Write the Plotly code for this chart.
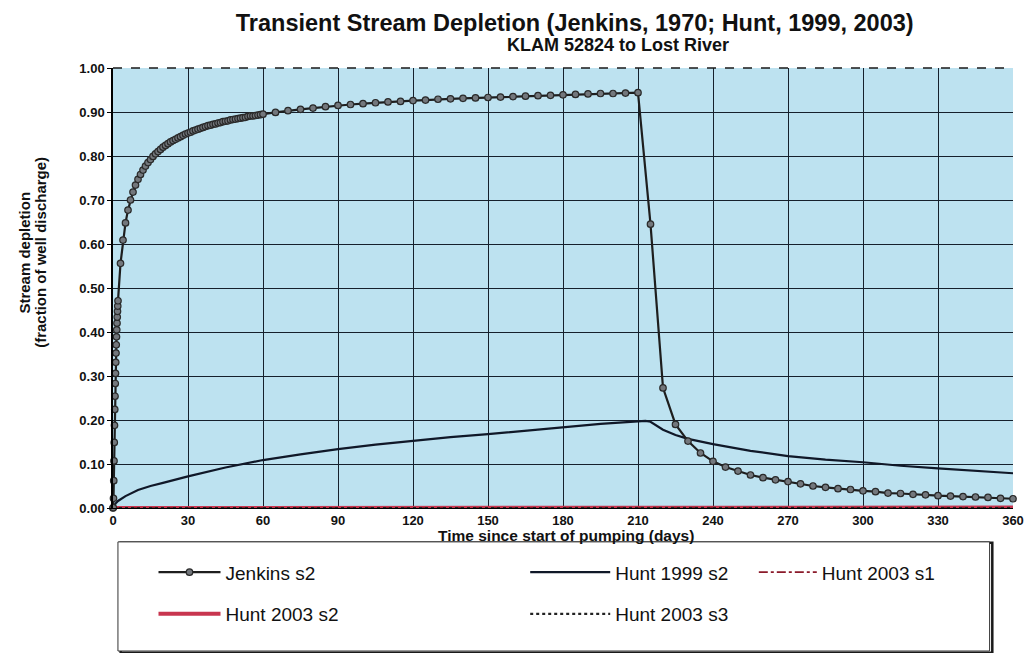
import plotly.graph_objects as go

# ---------------- data ----------------
jenkins_t = [0, 0.1, 0.2, 0.3, 0.4, 0.5, 0.6, 0.7, 0.8, 0.9, 1.0,
             1.1, 1.2, 1.3, 1.4, 1.5, 1.6, 1.7, 1.8, 1.9, 2.0,
             3, 4, 5, 6, 7, 8, 9, 10, 11, 12, 13, 14, 15, 16, 17, 18, 19, 20,
             21, 22, 23, 24, 25, 26, 27, 28, 29, 30, 31, 32, 33, 34, 35, 36, 37, 38, 39, 40,
             41, 42, 43, 44, 45, 46, 47, 48, 49, 50, 51, 52, 53, 54, 55, 56, 57, 58, 59, 60,
             65, 70, 75, 80, 85, 90, 95, 100, 105, 110, 115, 120, 125, 130, 135, 140,
             145, 150, 155, 160, 165, 170, 175, 180, 185, 190, 195, 200, 205, 210,
             215, 220, 225, 230, 235, 240, 245, 250, 255, 260, 265, 270, 275, 280,
             285, 290, 295, 300, 305, 310, 315, 320, 325, 330, 335, 340, 345, 350, 355, 360]
jenkins_v = [0.000, 0.001, 0.022, 0.062, 0.107, 0.149, 0.188, 0.224, 0.254, 0.283, 0.306,
             0.331, 0.352, 0.371, 0.389, 0.405, 0.420, 0.434, 0.447, 0.459, 0.471,
             0.556, 0.609, 0.648, 0.677, 0.700, 0.718, 0.734, 0.747, 0.758, 0.768, 0.777, 0.785,
             0.792, 0.799, 0.805, 0.810, 0.815, 0.820,
             0.824, 0.828, 0.832, 0.835, 0.838, 0.841, 0.844, 0.847, 0.850, 0.852,
             0.854, 0.857, 0.859, 0.861, 0.863, 0.865, 0.867, 0.869, 0.870, 0.872,
             0.873, 0.875, 0.876, 0.878, 0.879, 0.880, 0.882, 0.883, 0.884, 0.885,
             0.886, 0.887, 0.888, 0.890, 0.891, 0.891, 0.892, 0.893, 0.894, 0.895,
             0.899, 0.903, 0.906, 0.909, 0.912, 0.915, 0.917, 0.919, 0.921, 0.923, 0.924, 0.926,
             0.927, 0.929, 0.930, 0.931, 0.932, 0.933, 0.934, 0.935, 0.936, 0.937, 0.938, 0.939,
             0.940, 0.941, 0.942, 0.942, 0.943, 0.944,
             0.645, 0.273, 0.190, 0.152, 0.125, 0.106, 0.093, 0.084, 0.075, 0.069, 0.064, 0.060,
             0.055, 0.050, 0.047, 0.044, 0.042, 0.039, 0.037, 0.034, 0.033, 0.031, 0.030, 0.028,
             0.027, 0.026, 0.025, 0.024, 0.022, 0.021]

hunt1999_t = [0, 1, 2, 5, 10, 15, 20, 30, 45, 60, 75, 90, 105, 120, 135, 150, 165, 180, 195,
              210, 213, 215, 220, 225, 230, 240, 255, 270, 285, 300, 315, 330, 345, 360]
hunt1999_v = [0.000, 0.010, 0.016, 0.027, 0.041, 0.050, 0.057, 0.072, 0.092, 0.109, 0.122,
              0.134, 0.144, 0.153, 0.161, 0.168, 0.176, 0.184, 0.191,
              0.197, 0.198, 0.196, 0.178, 0.166, 0.157, 0.145, 0.130, 0.118, 0.110, 0.104,
              0.096, 0.090, 0.084, 0.079]

hunt2003_t = [0, 30, 60, 90, 120, 150, 180, 210, 240, 270, 300, 330, 360]
hunt2003_s1 = [0.000, 0.000, 0.001, 0.001, 0.001, 0.001, 0.001, 0.001, 0.001, 0.001, 0.001, 0.001, 0.001]
hunt2003_s2 = [0.000, 0.000, 0.001, 0.001, 0.001, 0.001, 0.001, 0.001, 0.001, 0.001, 0.001, 0.001, 0.001]
hunt2003_s3 = [0.000, 0.000, 0.000, 0.000, 0.000, 0.000, 0.000, 0.000, 0.000, 0.000, 0.000, 0.000, 0.000]

x_ticks = [0, 30, 60, 90, 120, 150, 180, 210, 240, 270, 300, 330, 360]
y_ticks = [0.0, 0.1, 0.2, 0.3, 0.4, 0.5, 0.6, 0.7, 0.8, 0.9, 1.0]

title_text = "Transient Stream Depletion (Jenkins, 1970; Hunt, 1999, 2003)"
subtitle_text = "KLAM 52824 to Lost River"
x_title = "Time since start of pumping (days)"
y_title_1 = "Stream depletion"
y_title_2 = "(fraction of well discharge)"

FONT = "Liberation Sans, Arial, sans-serif"
GRID = "#16202c"

fig = go.Figure()

fig.add_trace(go.Scatter(
    x=hunt2003_t, y=hunt2003_s2, name="Hunt 2003 s2", mode="lines",
    line=dict(color="#c8354f", width=4), legend="legend", legendgroup="d",
    legendrank=2))
fig.add_trace(go.Scatter(
    x=hunt2003_t, y=hunt2003_s1, name="Hunt 2003 s1", mode="lines",
    line=dict(color="#8b1a2a", width=1.8, dash="dashdot"), legend="legend3", legendgroup="c",
    legendrank=1))
fig.add_trace(go.Scatter(
    x=hunt2003_t, y=hunt2003_s3, name="Hunt 2003 s3", mode="lines",
    line=dict(color="#222222", width=2.2, dash="dot"), legend="legend2", legendgroup="e",
    legendrank=2))
fig.add_trace(go.Scatter(
    x=hunt1999_t, y=hunt1999_v, name="Hunt 1999 s2", mode="lines",
    line=dict(color="#101828", width=2.2), legend="legend2", legendgroup="b",
    legendrank=1))
fig.add_trace(go.Scatter(
    x=jenkins_t, y=jenkins_v, name="Jenkins s2", mode="lines+markers",
    line=dict(color="#1e1e1e", width=2.2),
    marker=dict(symbol="circle", size=6.5, color="#73777c", line=dict(color="#2a2a2a", width=1.2)),
    cliponaxis=False, legend="legend", legendgroup="a", legendrank=1))

fig.update_xaxes(
    range=[0, 360], tickvals=x_ticks, ticktext=[str(v) for v in x_ticks],
    showgrid=True, gridcolor=GRID, gridwidth=1,
    showline=True, linecolor="#000000", linewidth=1,
    ticks="",
    zeroline=False,
    tickfont=dict(family=FONT, size=13, color="#111111", weight="bold"),
)
fig.update_yaxes(
    range=[0, 1.0], tickvals=y_ticks, ticktext=[f"{v:.2f}" for v in y_ticks],
    showgrid=True, gridcolor=GRID, gridwidth=1,
    showline=True, linecolor="#000000", linewidth=1.5,
    ticks="outside", ticklen=4, tickcolor="#000000",
    zeroline=False,
    tickfont=dict(family=FONT, size=13, color="#111111", weight="bold"),
)

legend_common = dict(
    orientation="v", bgcolor="rgba(0,0,0,0)", borderwidth=0,
    font=dict(family=FONT, size=19, color="#111111"),
    tracegroupgap=14, xanchor="left", yanchor="top", itemclick=False,
    traceorder="grouped",
)
fig.update_layout(
    width=1030, height=653,
    margin=dict(l=113, r=17, t=68, b=145, autoexpand=False),
    paper_bgcolor="#ffffff", plot_bgcolor="#bde2f0",
    font=dict(family=FONT, color="#111111"),
    title=dict(text=title_text, x=0.558, xanchor="center", y=0.965, yanchor="middle",
               font=dict(family=FONT, size=23.5, color="#111111", weight="bold")),
    legend=dict(x=0.045, y=-0.103, itemwidth=62, **legend_common),
    legend2=dict(x=0.458, y=-0.103, itemwidth=80, **legend_common),
    legend3=dict(x=0.712, y=-0.103, itemwidth=58, **legend_common),
    showlegend=True,
)

# subtitle
fig.add_annotation(text=subtitle_text, xref="paper", yref="paper", x=0.561, y=1.052,
                   xanchor="center", yanchor="middle", showarrow=False,
                   font=dict(family=FONT, size=18, color="#111111", weight="bold"))
# x-axis title
fig.add_annotation(text=x_title, xref="paper", yref="paper", x=0.503, y=-0.062,
                   xanchor="center", yanchor="middle", showarrow=False,
                   font=dict(family=FONT, size=15.5, color="#111111", weight="bold"))
# y-axis title (two lines)
fig.add_annotation(text=y_title_1, xref="paper", yref="paper", x=-0.098, y=0.58,
                   xanchor="center", yanchor="middle", showarrow=False, textangle=-90,
                   font=dict(family=FONT, size=15, color="#111111", weight="bold"))
fig.add_annotation(text=y_title_2, xref="paper", yref="paper", x=-0.080, y=0.58,
                   xanchor="center", yanchor="middle", showarrow=False, textangle=-90,
                   font=dict(family=FONT, size=15, color="#111111", weight="bold"))
# dashed top border
fig.add_shape(type="line", xref="paper", yref="paper", x0=0, x1=1, y0=1, y1=1,
              line=dict(color="#1a1a1a", width=1.5, dash="dash"), layer="above")
# legend box with shadow
fig.add_shape(type="rect", xref="paper", yref="paper", x0=0.0085, x1=0.977, y0=-0.329, y1=-0.079,
              line=dict(color="#1a1a1a", width=2.5), fillcolor="rgba(0,0,0,0)", layer="below")
fig.add_shape(type="rect", xref="paper", yref="paper", x0=0.0055, x1=0.974, y0=-0.325, y1=-0.077,
              line=dict(color="#333333", width=1), fillcolor="#ffffff", layer="below")

fig.write_html("out.html", config={"displayModeBar": False},
               post_script="document.body.style.margin='0px';")
